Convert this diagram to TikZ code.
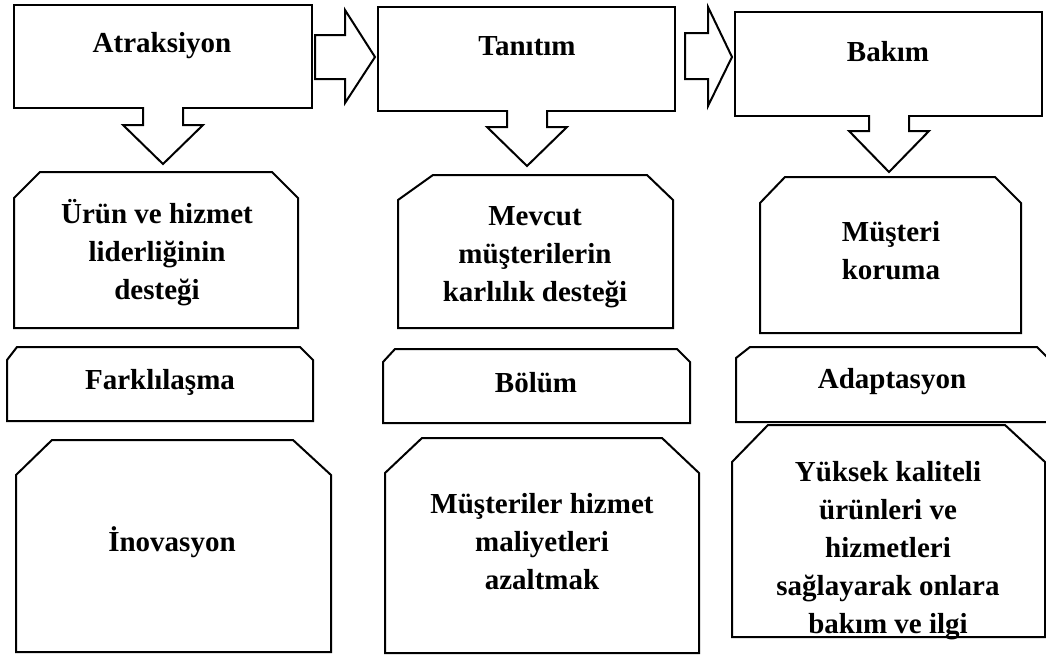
\documentclass[tikz,border=0pt]{standalone}
\usepackage{fontspec}
\setmainfont{Liberation Serif}
% downward block arrow: centre x, shaft half width, top y, neck y, tip y
\newcommand\dnblk[5]{%
  \fill[white] (#1-#2,#3-3) -- (#1-#2,#4) -- (#1-40,#4) -- (#1,#5) -- (#1+40,#4) -- (#1+#2,#4) -- (#1+#2,#3-3) -- cycle;
  \draw[edge] (#1-#2,#3-1) -- (#1-#2,#4) -- (#1-40,#4) -- (#1,#5) -- (#1+40,#4) -- (#1+#2,#4) -- (#1+#2,#3-1);
}
\begin{document}
\begin{tikzpicture}[x=1pt,y=-1pt,
  edge/.style={draw=black,line width=2pt,line join=miter},
  panel/.style={edge,fill=white},
  label/.style={font=\fontsize{29}{38}\selectfont\bfseries,align=center,inner sep=0pt}]
\useasboundingbox (0,0) rectangle (1046,657);

% top row: stage boxes
\draw[panel] (14,5) rectangle (312,108);
\draw[panel] (378,7) rectangle (675,111);
\draw[panel] (735,12) rectangle (1042,116);
\node[label] (atr) at (162,46) {Atraksiyon};
\node[label] (tan) at (527,46) {Tanıtım};
\node[label] (bak) at (888,52) {Bakım};

% block arrows between the stages
\draw[panel] (315,35) -- (345,35) -- (345,10) -- (375,57) -- (345,103) -- (345,79) -- (315,79) -- cycle;
\draw[panel] (685,33) -- (708,33) -- (708,7) -- (732,57) -- (708,106) -- (708,79) -- (685,79) -- cycle;

% block arrows down from each stage
\dnblk{163}{20}{108}{125}{164}
\dnblk{527}{20}{111}{127}{166}
\dnblk{889}{20}{116}{131}{172}

% second row
\draw[panel] (40,172) -- (272,172) -- (298,198) -- (298,328) -- (14,328) -- (14,198) -- cycle;
\draw[panel] (433,175) -- (647,175) -- (673,200) -- (673,328) -- (398,328) -- (398,200) -- cycle;
\draw[panel] (785,177) -- (995,177) -- (1021,203) -- (1021,333) -- (760,333) -- (760,203) -- cycle;
\node[label] (urun) at (157,253) {Ürün ve hizmet\\liderliğinin\\desteği};
\node[label] (mev) at (535,257) {Mevcut\\müşterilerin\\karlılık desteği};
\node[label] (mus) at (891,251) {Müşteri\\koruma};

% third row
\draw[panel] (17,347) -- (300,347) -- (313,360) -- (313,421) -- (7,421) -- (7,360) -- cycle;
\draw[panel] (395,349) -- (677,349) -- (690,362) -- (690,423) -- (383,423) -- (383,362) -- cycle;
\draw[panel] (750,347) -- (1037,347) -- (1050,360) -- (1050,422) -- (736,422) -- (736,358) -- cycle;
\node[label] (far) at (160,382) {Farklılaşma};
\node[label] (bol) at (536,383) {Bölüm};
\node[label] (ada) at (892,382) {Adaptasyon};

% bottom row
\draw[panel] (52,440) -- (293,440) -- (331,475) -- (331,652) -- (16,652) -- (16,475) -- cycle;
\draw[panel] (422,438) -- (662,438) -- (699,473) -- (699,653) -- (385,653) -- (385,473) -- cycle;
\draw[panel] (768,425) -- (1005,425) -- (1045,462) -- (1045,637) -- (732,637) -- (732,462) -- cycle;
\node[label] (ino) at (172,542) {İnovasyon};
\node[label] (mal) at (542,542) {Müşteriler hizmet\\maliyetleri\\azaltmak};
\node[label] (yuk) at (888,551) {Yüksek kaliteli\\ürünleri ve\\hizmetleri\\sağlayarak onlara\\bakım ve ilgi};
\end{tikzpicture}
\end{document}
